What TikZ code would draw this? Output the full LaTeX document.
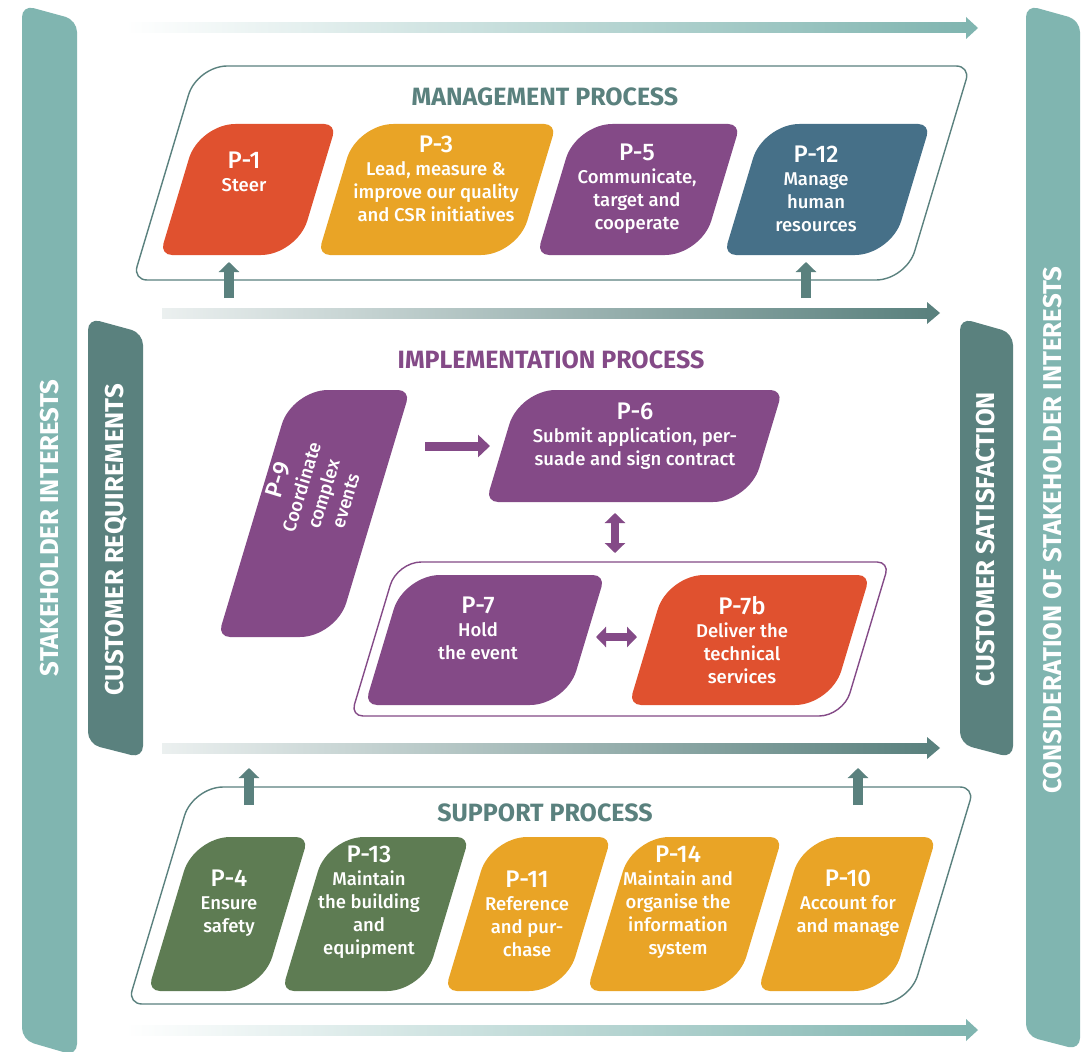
\documentclass[tikz,border=0pt]{standalone}
\usepackage{fontspec}
\setmainfont{Fira Sans}
\newfontfamily\medfont{Fira Sans Medium}
\usetikzlibrary{calc,arrows.meta}
\definecolor{lteal}{HTML}{80B5B0}
\definecolor{dteal}{HTML}{5A817E}
\definecolor{pred}{HTML}{E0512F}
\definecolor{porange}{HTML}{E9A426}
\definecolor{ppurple}{HTML}{844A87}
\definecolor{pblue}{HTML}{467088}
\definecolor{pgreen}{HTML}{5E7C53}
% #1 name, #2 path options, #3 x of bottom-left, #4 y of bottom, #5 width, #6 height, #7 big radius, #8 small radius
\newcommand\leaf[8]{%
  \coordinate (#1bl) at (#3,#4);
  \coordinate (#1tl) at ({#3+0.3*#6},{#4-#6});
  \coordinate (#1tr) at ({#3+0.3*#6+#5},{#4-#6});
  \coordinate (#1br) at ({#3+#5},{#4});
  \coordinate (#1a1) at ($(#1bl)!#8!(#1tl)$);
  \coordinate (#1a2) at ($(#1tl)!#7!(#1bl)$);
  \coordinate (#1a3) at ($(#1tl)!#7!(#1tr)$);
  \coordinate (#1a4) at ($(#1tr)!#8!(#1tl)$);
  \coordinate (#1a5) at ($(#1tr)!#8!(#1br)$);
  \coordinate (#1a6) at ($(#1br)!#7!(#1tr)$);
  \coordinate (#1a7) at ($(#1br)!#7!(#1bl)$);
  \coordinate (#1a8) at ($(#1bl)!#8!(#1br)$);
  \path[#2] (#1a1) -- (#1a2)
    .. controls ($(#1a2)!0.55!(#1tl)$) and ($(#1a3)!0.55!(#1tl)$) .. (#1a3) -- (#1a4)
    .. controls ($(#1a4)!0.55!(#1tr)$) and ($(#1a5)!0.55!(#1tr)$) .. (#1a5) -- (#1a6)
    .. controls ($(#1a6)!0.55!(#1br)$) and ($(#1a7)!0.55!(#1br)$) .. (#1a7) -- (#1a8)
    .. controls ($(#1a8)!0.55!(#1bl)$) and ($(#1a1)!0.55!(#1bl)$) .. (#1a1) -- cycle;
}
\newcommand\pbox[6]{\leaf{#1}{fill=#2}{#3}{#4}{#5}{#6}{36pt}{12pt}}
\newcommand\plab[1]{{\fontsize{24}{23}\selectfont #1}}
\begin{document}
\begin{tikzpicture}[x=1pt,y=-1pt,
  ptxt/.style={text=white, align=center, inner sep=0pt, font=\medfont\fontsize{18.5}{23}\selectfont},
  title/.style={font=\fontsize{25}{26}\selectfont\bfseries, inner sep=0pt},
  sidetxt/.style={text=white, rotate=90, inner sep=0pt, font=\fontsize{25.8}{27}\selectfont\bfseries},
  upar/.style={dteal, line width=10pt, -{Triangle[length=10pt,width=20pt]}},
  onear/.style={ppurple, line width=9pt, -{Triangle[length=12pt,width=22pt]}},
  twoar/.style={ppurple, line width=8pt, {Triangle[length=10pt,width=20pt]}-{Triangle[length=10pt,width=20pt]}}
]
\useasboundingbox (0,0) rectangle (1091,1051);
\fill[white] (0,0) rectangle (1091,1051);

% side bars
\fill[lteal, rounded corners=12pt] (22,5) -- (77,20) -- (77,1056) -- (22,1040) -- cycle;
\fill[lteal, rounded corners=12pt] (1026,5) -- (1080,20) -- (1080,1050) -- (1026,1036) -- cycle;
\fill[dteal, rounded corners=12pt] (88,318) -- (143,333) -- (143,758) -- (88,744) -- cycle;
\fill[dteal, rounded corners=12pt] (960,318) -- (1013,333) -- (1013,758) -- (960,744) -- cycle;

\node[sidetxt] (si) at (50,528) {STAKEHOLDER INTERESTS};
\node[sidetxt] (csi) at (1053,530) {CONSIDERATION OF STAKEHOLDER INTERESTS};
\node[sidetxt] (cr) at (116,540) {CUSTOMER REQUIREMENTS};
\node[sidetxt] (cs) at (986,539) {CUSTOMER SATISFACTION};

% gradient flow arrows
\shade[left color=white, right color=lteal] (125,23) rectangle (967,33);
\fill[lteal] (966,17) -- (978,28) -- (966,39) -- cycle;
\shade[left color=white, right color=lteal] (125,1025) rectangle (967,1035);
\fill[lteal] (966,1019) -- (978,1030) -- (966,1041) -- cycle;
\shade[left color=dteal!12, right color=dteal] (162,308) rectangle (928,318);
\fill[dteal] (927,302) -- (940,313) -- (927,324) -- cycle;
\shade[left color=dteal!12, right color=dteal] (162,743) rectangle (928,753);
\fill[dteal] (927,737) -- (940,748) -- (927,759) -- cycle;

% management
\leaf{fm}{draw=dteal, line width=1.4pt}{133}{280}{773}{214}{30pt}{14pt}
\node[title, text=dteal] (mt) at (545,97) {MANAGEMENT PROCESS};
\pbox{p1}{pred}{160}{255}{137}{131}
\pbox{p3}{porange}{318}{255}{199}{131}
\pbox{p5}{ppurple}{537}{255}{164}{131}
\pbox{p12}{pblue}{724}{255}{167}{131}
\node[ptxt] (p1) at (244,172) {\plab{P-1}\\Steer};
\node[ptxt] (p3) at (436,179) {\plab{P-3}\\Lead, measure \&\\improve our quality\\and CSR initiatives};
\node[ptxt] (p5) at (637,189) {\plab{P-5}\\Communicate,\\target and\\cooperate};
\node[ptxt] (p12) at (816,189) {\plab{P-12}\\Manage\\human\\resources};
\coordinate (u1s) at (229,298); \coordinate (u1e) at (229,262);
\coordinate (u2s) at (806,298); \coordinate (u2e) at (806,262);
\draw[upar] (u1s) -- (u1e);
\draw[upar] (u2s) -- (u2e);

% implementation
\node[title, text=ppurple] (it) at (551,360) {IMPLEMENTATION PROCESS};
\leaf{fi}{draw=ppurple, line width=1.4pt}{351}{716}{492}{154}{24pt}{12pt}
\pbox{p9}{ppurple}{218}{637}{118}{247}
\pbox{p6}{ppurple}{486}{502}{263}{112}
\pbox{p7}{ppurple}{365}{705}{201}{130}
\pbox{p7b}{pred}{629}{705}{202}{130}
\node[ptxt, rotate=73] (p9) at (311,490) {\plab{P-9}\\Coordinate\\complex\\events};
\node[ptxt] (p6) at (635,436) {\plab{P-6}\\Submit application, per-\\suade and sign contract};
\node[ptxt] (p7) at (478,628) {\plab{P-7}\\Hold\\the event};
\node[ptxt] (p7b) at (742,640) {\plab{P-7b}\\Deliver the\\technical\\services};
\coordinate (a96s) at (425,446); \coordinate (a96e) at (490,446);
\draw[onear] (a96s) -- (a96e);
\coordinate (a6s) at (615,513); \coordinate (a6e) at (615,553);
\draw[twoar] (a6s) -- (a6e);
\coordinate (a7s) at (596,637); \coordinate (a7e) at (637,637);
\draw[twoar] (a7s) -- (a7e);

% support
\leaf{fs}{draw=dteal, line width=1.4pt}{128}{1004}{781}{217}{30pt}{14pt}
\node[title, text=dteal] (st) at (545,813) {SUPPORT PROCESS};
\pbox{p4}{pgreen}{148}{991}{114}{154}
\pbox{p13}{pgreen}{282}{991}{141}{154}
\pbox{p11}{porange}{445}{991}{120}{154}
\pbox{p14}{porange}{587}{991}{149}{154}
\pbox{p10}{porange}{758}{991}{132}{154}
\node[ptxt] (p4) at (229,903) {\plab{P-4}\\Ensure\\safety};
\node[ptxt] (p13) at (369,902) {\plab{P-13}\\Maintain\\the building\\and\\equipment};
\node[ptxt] (p11) at (527,914) {\plab{P-11}\\Reference\\and pur-\\chase};
\node[ptxt] (p14) at (678,902) {\plab{P-14}\\Maintain and\\organise the\\information\\system};
\node[ptxt] (p10) at (848,903) {\plab{P-10}\\Account for\\and manage};
\coordinate (u3s) at (249,805); \coordinate (u3e) at (249,768);
\coordinate (u4s) at (858,805); \coordinate (u4e) at (858,768);
\draw[upar] (u3s) -- (u3e);
\draw[upar] (u4s) -- (u4e);
\end{tikzpicture}
\end{document}
